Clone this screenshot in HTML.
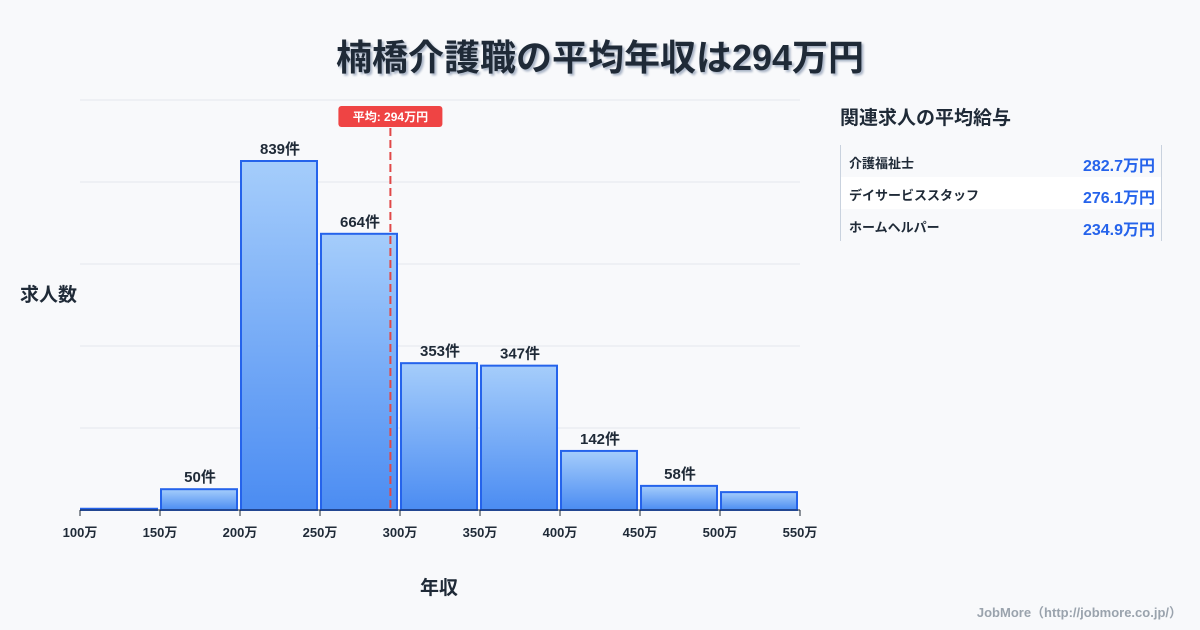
<!DOCTYPE html>
<html><head><meta charset="utf-8"><style>
body{margin:0;width:1200px;height:630px;background:#f8f9fb;font-family:"Liberation Sans","Noto Sans CJK JP",sans-serif;overflow:hidden;position:relative;color:#1f2a37}
.t{position:absolute;white-space:nowrap}
</style></head><body>
<div class="t" style="left:0;width:1200px;text-align:center;top:29px;font-size:36px;font-weight:bold;text-shadow:2px 2px 2px #a9b4c6">楠橋介護職の平均年収は294万円</div>
<div class="t" style="left:20px;top:280px;font-size:19px;font-weight:bold">求人数</div>
<div class="t" style="left:420px;top:573px;font-size:19px;font-weight:bold">年収</div>
<svg id="c" width="1200" height="630" style="position:absolute;left:0;top:0">
<defs><linearGradient id="g" x1="0" y1="0" x2="0" y2="1"><stop offset="0" stop-color="#a5cdfb"/><stop offset="1" stop-color="#4b8cf2"/></linearGradient></defs>
</svg>
<div class="t" style="left:840px;top:103px;font-size:19px;font-weight:bold">関連求人の平均給与</div>
<div style="position:absolute;left:840px;top:145px;width:320px;height:96px;border-left:1px solid #c9d2de;border-right:1px solid #c9d2de">
<div style="height:32px;position:relative"><span class="t" style="left:8px;top:8px;font-size:13px;font-weight:bold">介護福祉士</span><span class="t" style="right:6px;top:7px;font-size:16px;font-weight:bold;color:#2563eb">282.7万円</span></div>
<div style="height:32px;position:relative;background:#fff"><span class="t" style="left:8px;top:8px;font-size:13px;font-weight:bold">デイサービススタッフ</span><span class="t" style="right:6px;top:7px;font-size:16px;font-weight:bold;color:#2563eb">276.1万円</span></div>
<div style="height:32px;position:relative"><span class="t" style="left:8px;top:8px;font-size:13px;font-weight:bold">ホームヘルパー</span><span class="t" style="right:6px;top:7px;font-size:16px;font-weight:bold;color:#2563eb">234.9万円</span></div>
</div>
<div class="t" style="right:18px;top:602px;font-size:13px;font-weight:bold;color:#9aa3ad">JobMore（http://jobmore.co.jp/）</div>
<script>
const binStarts=[100,150,200,250,300,350,400,450,500];
const counts=[3,50,839,664,353,347,142,58,43];
const showLabel=[false,true,true,true,true,true,true,true,false];
const xTicks=[100,150,200,250,300,350,400,450,500,550];
const avg=294;
const svg=document.getElementById('c');
const NS='http://www.w3.org/2000/svg';
const x=v=>80+(v-100)*1.6;
const y=v=>510-v*349/839;
function mk(t,a){const e=document.createElementNS(NS,t);for(const k in a)e.setAttribute(k,a[k]);svg.appendChild(e);return e;}
for(let i=0;i<5;i++){const g=mk('line',{x1:80,x2:800,y1:100+i*82,y2:100+i*82,stroke:'#e3e7ed'});

}
binStarts.forEach((b,i)=>{
 const top=y(counts[i]);
 const r=mk('rect',{x:x(b)+1,y:top,width:76,height:510-top,fill:'url(#g)',stroke:'#2563eb','stroke-width':2});
 
 
 if(showLabel[i]){const t=mk('text',{x:x(b)+40,y:top-7,'text-anchor':'middle','font-size':15,'font-weight':'bold',fill:'#1f2a37'});t.textContent=counts[i]+'件';
 
 }
});
const ax=mk('line',{x1:80,x2:800,y1:510,y2:510,stroke:'#1f2a37'});


xTicks.forEach(v=>{const l=mk('line',{x1:x(v),x2:x(v),y1:510,y2:516,stroke:'#1f2a37'});


const t=mk('text',{x:x(v),y:537,'text-anchor':'middle','font-size':13,'font-weight':'bold',fill:'#1f2a37'});t.textContent=v+'万';

});
const al=mk('line',{x1:x(avg),x2:x(avg),y1:128,y2:510,stroke:'#e04848','stroke-width':2,'stroke-dasharray':'8,4'});


const ab=mk('rect',{x:x(avg)-52,y:106,width:104,height:21,rx:3,fill:'#ef4444'});


const at=mk('text',{x:x(avg),y:121,'text-anchor':'middle','font-size':12,'font-weight':'bold',fill:'#fff'});at.textContent='平均: '+avg+'万円';


</script>
</body></html>
